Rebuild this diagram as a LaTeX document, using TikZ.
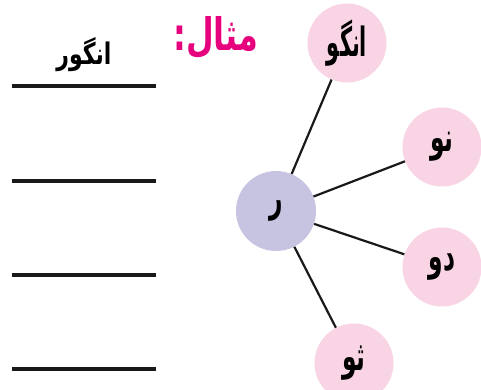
\documentclass[tikz,border=0pt]{standalone}
\usepackage{fontspec}
\newfontfamily\arabicfont[Script=Arabic]{DejaVu Sans}
\TeXXeTstate=1
\newcommand\urdu[1]{{\arabicfont\bfseries\beginR #1\endR}}
\newcommand\tallurdu[2]{\scalebox{#1}[1.55]{\urdu{#2}}}
\definecolor{leafpink}{HTML}{F8D4E4}
\definecolor{hubblue}{HTML}{C6C4E1}
\definecolor{titlemag}{HTML}{E6007E}
\begin{document}
\begin{tikzpicture}[x=1pt,y=-1pt,
  leaf/.style={circle, fill=leafpink, minimum size=79pt, inner sep=0pt, font=\fontsize{26}{28}\selectfont},
  hub/.style={circle, fill=hubblue, minimum size=80pt, inner sep=0pt, font=\fontsize{26}{28}\selectfont},
  link/.style={line width=2.2pt, black!90},
  answerline/.style={line width=3.2pt, black!90},
  wordlabel/.style={inner sep=0pt, font=\fontsize{22}{24}\selectfont}]
\useasboundingbox (0,0) rectangle (481,389);
\node[hub] (r) at (276,211) {\tallurdu{0.9}{ر}};
\node[leaf] (a) at (347,43) {\tallurdu{0.8}{انگو}};
\node[leaf] (b) at (442,147) {\tallurdu{0.9}{نو}};
\node[leaf] (c) at (442,267) {\tallurdu{0.9}{دو}};
\node[leaf] (d) at (354,363) {\tallurdu{0.9}{ثو}};
\draw[link] (r) -- (a);
\draw[link] (r) -- (b);
\draw[link] (r) -- (c);
\draw[link] (r) -- (d);
\node[wordlabel] (w) at (84,55) {\scalebox{1}[1.35]{\urdu{انگور}}};
\node[wordlabel, text=titlemag, font=\fontsize{32}{34}\selectfont] (t) at (216,38) {\scalebox{1}[1.4]{\urdu{مثال:}}};
\coordinate (l1a) at (12,86);  \coordinate (l1b) at (156,86);
\coordinate (l2a) at (12,181); \coordinate (l2b) at (156,181);
\coordinate (l3a) at (12,275); \coordinate (l3b) at (156,275);
\coordinate (l4a) at (12,369); \coordinate (l4b) at (156,369);
\draw[answerline] (l1a) -- (l1b);
\draw[answerline] (l2a) -- (l2b);
\draw[answerline] (l3a) -- (l3b);
\draw[answerline] (l4a) -- (l4b);
\end{tikzpicture}
\end{document}
